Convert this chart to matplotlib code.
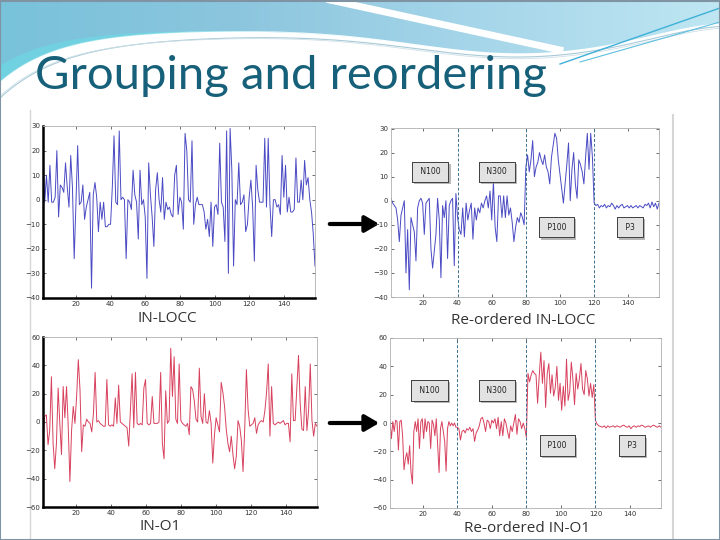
import numpy as np
import matplotlib.pyplot as plt
import matplotlib.patheffects as pe
from matplotlib.colors import LinearSegmentedColormap

# ---- data ----
in_locc = [20, -1, 10, -1, 14, -1, -1, 1, 20, -7,
           6, 5, 3, 15, 5, -3, 18, 5, -24, -2,
           22, -2, -1, 6, -8, -3, 0, 3, -36, 2,
           7, 1, -13, -1, -8, -1, -11, -11, -10, -10,
           5, 26, -1, -2, 28, 0, 1, 0, -24, 0,
           -1, -4, 12, 2, -1, -16, 12, -2, 0, -7,
           -32, 15, 2, -7, -19, 4, 11, 0, -5, 9,
           -8, -1, -4, -3, -6, -7, 10, 14, -6, 1,
           -1, -12, 27, 20, 0, -1, 24, -10, -2, 1,
           -2, -2, -2, -5, -12, -8, -15, -1, -19, -3,
           -2, -6, 23, -1, -3, -17, 28, -30, 29, 12,
           -27, 0, -2, 15, -2, -1, 2, -13, -10, 1,
           8, -3, -25, 14, 4, -1, -1, -1, 25, -3,
           25, -2, -15, 0, 0, -3, -2, -6, 18, 1,
           14, -5, 1, -5, -5, -4, 17, -1, -1, 8,
           0, 16, 6, 9, 0, -5, -14, -27]

in_o1 = [-14, 4, 5, -16, -6, 32, -15, -33, -15, 24,
         -1, -23, 25, 3, 25, -3, -42, -6, 11, -1,
         18, 44, 23, -21, -2, -3, 2, 0, -1, -7,
         6, 35, 0, 1, -1, -2, -3, -3, 30, -2,
         -3, -2, -3, 17, -1, 26, 0, -1, -2, -3,
         -4, -17, 8, 34, -4, 35, -1, -2, -1, -2,
         24, 30, -1, -2, -1, 18, -1, -1, -1, 0,
         35, -15, -26, 22, -1, 1, 52, 18, 46, 2,
         -1, 41, 1, -1, -2, -3, -1, -9, 25, 23,
         15, 2, 0, 38, 4, -1, 20, 0, -1, 8,
         -1, -29, -9, 3, -2, -7, 28, 21, 11, -5,
         -15, -21, -10, -23, -33, -24, 1, -3, -13, -35,
         -5, 37, 9, -3, -2, -1, 3, -8, -2, 0,
         1, 0, 8, 21, 41, -10, 25, -1, -2, -1,
         0, -1, 0, 1, -2, -1, -1, -14, 34, 1,
         1, 24, 47, 13, -5, -6, 25, -6, 8, 41,
         1, -10, -1, -3]

# re-ordered series, one list per component window
bounds = [1, 40, 80, 120, 158]
groups = ['N100', 'N300', 'P100', 'P3']

locc_n100 = [1, -1, -2, -3, -8, -17, -6, -3, 0, -30,
             -12, -37, -7, -10, -13, -25, -3, 0, 1, -1,
             -14, -1, 0, 1, -20, -28, -21, -14, 1, -8,
             -32, -2, -7, 0, -24, -2, 0, 1, -27, 3]
locc_n300 = [-7, -12, -14, -3, -15, -1, -8, -4, -1, -16,
             -3, -8, -3, -5, -1, -3, 0, 2, -3, 4,
             -8, 8, -11, -17, 2, 2, -7, 2, -7, 2,
             -6, -3, -9, -17, -11, -7, -9, -5, -7, -10]
locc_p100 = [14, 19, 12, 17, 25, 10, 14, 16, 20, 17,
             15, 19, 14, 12, 7, 18, 23, 28, 26, 17,
             11, 5, -1, 7, 15, 24, 0, 13, 20, 7,
             1, 17, 15, 12, 7, 18, 28, 13, 28, 18]
locc_p3 = [-1, -2, -1.5, -3, -2, -2.5, -1.5, -3, -2, -2.5,
           -1, -2, -3.5, -2, -3, -2, -1.5, -3, -2.5, -2,
           -3, -2, -3, -2.5, -2, -3, -2, -2.5, -3, -1.5,
           -2, -1, -3, -0.5, -2.5, -1, -3.5, -1]

o1_n100 = [1, -11, 1, -6, 2, 1, -19, 1, 2, -9,
           -33, -25, -21, -29, -16, -35, -43, -6, 1, -6,
           3, -18, 1, 3, -11, 3, -6, 1, 0, -18,
           2, -1, -9, 3, -16, -35, -4, 1, -6, -13,
           -34, -4, 1, -2, 0, -2, 0, -3]
o1_n300 = [-3, -4, -12, -6, -5, -7, -4, -5, -3, -6,
           -4, -13, -7, -5, -2, 3, 4, 0, -6, 2,
           1, -4, 2, 0, 3, -4, 4, -9, 1, -9,
           3, 0, -6, -11, -2, -6, 0, 6, -8, 3,
           1, -4, 0, -4]
o1_p100 = [-10, 35, 29, 34, 37, 35, 34, 14, 33, 50,
           28, 44, 11, 35, 42, 21, 34, 19, 25, 40,
           16, 28, 9, 26, 12, 45, 16, 22, 43, 31,
           13, 35, 24, 31, 42, 24, 20, 37, 31, 19,
           28, 18, 27]
o1_p3 = [2, -1, -2, -2.5, -3, -2, -3.5, -2, -3, -2.5,
         -2, -3, -2, -2.5, -3, -2, -1.5, -2.5, -3, -2,
         -4, -2.5, -2, -3, -2, -2.5, -1.5, -2, -3, -2.5,
         -2, -3, -2, -1.5, -2.5, -3, -2, -3]

label_x = [24, 63, 98, 141]
locc_label_y = [12, 12, -11, -11]
o1_label_y = [23, 23, -16, -16]

BLUE = '#4a4ac4'
RED = '#d8415e'
TITLE = '#17607a'


def segments_xy(segs):
    xs, ys = [], []
    for i, s in enumerate(segs):
        last = i == len(segs) - 1
        xs.append(np.linspace(bounds[i], bounds[i + 1], len(s), endpoint=last))
        ys.append(np.array(s, dtype=float))
    return np.concatenate(xs), np.concatenate(ys)


def style_axes(ax, ylim, ystep, thick):
    ax.set_xlim(1, 158)
    ax.set_ylim(*ylim)
    ax.set_xticks(range(20, 141, 20))
    ax.set_yticks(range(ylim[0], ylim[1] + 1, ystep))
    ax.tick_params(direction='in', length=2, width=0.5, top=True, right=True,
                   labelsize=5, colors='#333333', pad=2)
    for s in ax.spines.values():
        s.set_color('#b0b0b0')
        s.set_linewidth(0.6)
    if thick:
        for k in ('left', 'bottom'):
            ax.spines[k].set_color('black')
            ax.spines[k].set_linewidth(1.8)


def add_boxes(ax, ys):
    for name, cx, cy in zip(groups, label_x, ys):
        t = ax.text(cx, cy, ' ' + name + ' ', ha='center', va='center', fontsize=5.5,
                    color='#222222', zorder=5,
                    bbox=dict(boxstyle='square,pad=0.75', fc='#e2e2e2',
                              ec='#333333', lw=0.6))
        t.get_bbox_patch().set_path_effects(
            [pe.withSimplePatchShadow(offset=(1.5, -1.5), shadow_rgbFace='#888888', alpha=0.6),
             pe.Normal()])


fig = plt.figure(figsize=(7.2, 5.4), dpi=100)

# slide background and header decoration
bg = fig.add_axes([0, 0, 1, 1], zorder=0)
bg.set_xlim(0, 720)
bg.set_ylim(540, 0)
bg.axis('off')
xx = np.linspace(0, 720, 400)
grad = np.linspace(0, 1, 256).reshape(1, -1)
hdr = LinearSegmentedColormap.from_list('hdr', ['#78c2da', '#8cc6de', '#a6d6ea', '#bfe6f2'])
bg.imshow(grad, extent=[0, 720, 0, 100], cmap=hdr, aspect='auto', zorder=0)
top_edge = 30 + 52 * np.exp(-xx / 60) + 24 * np.exp(-((xx - 520) / 150) ** 2) \
    - 10 * np.exp(-((xx - 720) / 80) ** 2)
bg.fill_between(xx, top_edge, 540, color='white', zorder=1)
bg.fill_between(xx, top_edge - 16 * np.exp(-xx / 70), top_edge,
                color='#6ed8e4', alpha=0.7, lw=0, zorder=1)
bg.plot([330, 560], [0, 50], color='white', lw=5, zorder=1)
bg.plot(xx, top_edge + 14 * np.exp(-xx / 200) + 2, color='#a8cad8', lw=0.8, zorder=2)
bg.plot(xx, top_edge + 10 * np.exp(-xx / 200) + 4, color='#cfe0e8', lw=0.6, zorder=2)
bg.plot([560, 720], [64, 8], color='#3fb0d8', lw=1.0, zorder=2)
bg.plot([580, 720], [62, 22], color='#5ec0e0', lw=0.8, zorder=2)
bg.plot([30, 30], [110, 540], color='#d6d6d6', lw=1, zorder=1)
bg.plot([673, 673], [115, 540], color='#d6d6d6', lw=1.5, zorder=1)
bg.plot([0, 720, 720, 0, 0], [0.5, 0.5, 539.5, 539.5, 0.5], color='#7f93a3', lw=1.5, zorder=3)

fig.text(35 / 720, 1 - 76 / 540, 'Grouping and reordering', fontsize=34,
         family='Lato', color=TITLE, va='center', ha='left')

# arrows between raw and re-ordered plots
for y in (224, 423):
    bg.annotate('', xy=(382, y), xytext=(327, y),
                arrowprops=dict(arrowstyle='-|>,head_length=0.6,head_width=0.35',
                                lw=3, color='black', mutation_scale=14))

ax1 = fig.add_axes([43 / 720, 1 - 298 / 540, 272 / 720, 172 / 540], zorder=2)
ax2 = fig.add_axes([391 / 720, 1 - 297 / 540, 268 / 720, 168.5 / 540], zorder=2)
ax3 = fig.add_axes([43 / 720, 1 - 507 / 540, 274 / 720, 170 / 540], zorder=2)
ax4 = fig.add_axes([390 / 720, 1 - 508 / 540, 271 / 720, 170 / 540], zorder=2)

ax1.plot(np.linspace(1, 158, len(in_locc)), in_locc, color=BLUE, lw=0.7)
style_axes(ax1, (-40, 30), 10, True)

x, y = segments_xy([locc_n100, locc_n300, locc_p100, locc_p3])
ax2.plot(x, y, color=BLUE, lw=0.7)
style_axes(ax2, (-40, 30), 10, False)
add_boxes(ax2, locc_label_y)

ax3.plot(np.linspace(1, 158, len(in_o1)), in_o1, color=RED, lw=0.7)
style_axes(ax3, (-60, 60), 20, True)

x, y = segments_xy([o1_n100, o1_n300, o1_p100, o1_p3])
ax4.plot(x, y, color=RED, lw=0.7)
style_axes(ax4, (-60, 60), 20, False)
add_boxes(ax4, o1_label_y)

for ax in (ax2, ax4):
    for b in bounds[1:4]:
        ax.axvline(b, color='#3d6f8e', lw=0.7, ls=(0, (3, 2)))

cap = dict(fontsize=11, family='Open Sans', color='#333333', ha='center', va='center')
fig.text(167 / 720, 1 - 319 / 540, 'IN-LOCC', **cap)
fig.text(523 / 720, 1 - 320 / 540, 'Re-ordered IN-LOCC', **cap)
fig.text(160 / 720, 1 - 527 / 540, 'IN-O1', **cap)
fig.text(527 / 720, 1 - 528 / 540, 'Re-ordered IN-O1', **cap)

fig.savefig('out.png', dpi=100)
